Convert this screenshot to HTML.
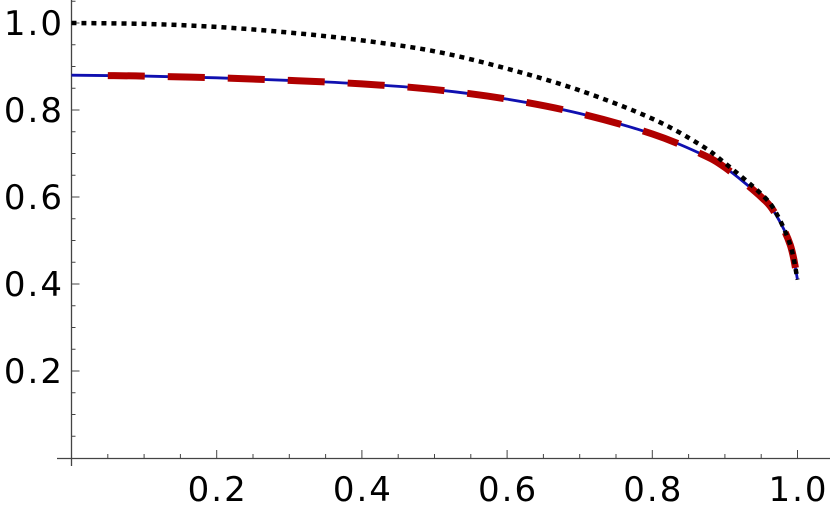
<!DOCTYPE html>
<html><head><meta charset="utf-8"><style>
html,body{margin:0;padding:0;background:#fff}
svg{display:block}
text{font-family:"DejaVu Sans","Liberation Sans",sans-serif;font-size:34px;letter-spacing:2px;fill:#000}
</style></head><body>
<svg id="chart" width="830" height="513" viewBox="0 0 830 513"></svg>
<script>
const xs = [0,0.1,0.2,0.3,0.4,0.5,0.6,0.7,0.8,0.866,0.9,0.95,0.97,0.99,1.0];
const blackVals = [1.0,0.998,0.991,0.978,0.96,0.935,0.895,0.845,0.78,0.72,0.678,0.607,0.565,0.49,0.41];
const blueVals = [0.88,0.878,0.874,0.868,0.86,0.847,0.825,0.792,0.745,0.70,0.668,0.6,0.56,0.49,0.41];
const redXs = [0.05,0.1,0.2,0.3,0.4,0.5,0.6,0.7,0.8,0.866,0.9,0.95,0.97,0.99,1.0];
const redVals = [0.879,0.878,0.874,0.868,0.86,0.847,0.825,0.792,0.745,0.70,0.668,0.6,0.56,0.49,0.41];
const xTicks = [0.2,0.4,0.6,0.8,1.0];
const yTicks = [0.2,0.4,0.6,0.8,1.0];

const NS='http://www.w3.org/2000/svg';
const svg=document.getElementById('chart');
const X=v=>71.5+v*726;
const Y=v=>458-v*435;
function mk(tag,attrs,parent){const e=document.createElementNS(NS,tag);for(const k in attrs)e.setAttribute(k,attrs[k]);(parent||svg).appendChild(e);return e;}
function path(xa,ya){
  const p=xa.map((x,i)=>[X(x),Y(ya[i])]);
  let d='M'+p[0][0]+','+p[0][1];
  for(let i=0;i<p.length-1;i++){
    const p0=p[i-1]||p[i],p1=p[i],p2=p[i+1],p3=p[i+2]||p2;
    const c1=[p1[0]+(p2[0]-p0[0])/6,p1[1]+(p2[1]-p0[1])/6];
    const c2=[p2[0]-(p3[0]-p1[0])/6,p2[1]-(p3[1]-p1[1])/6];
    d+=` C${c1[0]},${c1[1]} ${c2[0]},${c2[1]} ${p2[0]},${p2[1]}`;
  }
  return d;
}
const xa=mk('line',{x1:57,y1:458.5,x2:830,y2:458.5,stroke:'#444','stroke-width':1.3});


const ya=mk('line',{x1:71.5,y1:0,x2:71.5,y2:466,stroke:'#444','stroke-width':1.3});


for(let i=1;i<=20;i++){
  const v=i*0.05, major=i%4===0;
  const t=mk('line',{x1:X(v),y1:458,x2:X(v),y2:458-(major?8:4),stroke:'#444','stroke-width':1});
  
  
  const u=mk('line',{x1:71.5,y1:Y(v),x2:71.5+(major?8:4),y2:Y(v),stroke:'#444','stroke-width':1});
  
  
}
{const u=mk('line',{x1:71.5,y1:Y(1.05),x2:75.5,y2:Y(1.05),stroke:'#444','stroke-width':1});

}
xTicks.forEach(v=>{
  const t=mk('text',{x:X(v)+1,y:501,'text-anchor':'middle'});t.textContent=v.toFixed(1);
  
  
});
yTicks.forEach(v=>{
  const t=mk('text',{x:64,y:Y(v)+12,'text-anchor':'end'});t.textContent=v.toFixed(1);
  
  
});
const blue=mk('path',{d:path(xs,blueVals),fill:'none',stroke:'#1010b0','stroke-width':2.8});


const red=mk('path',{d:path(redXs,redVals),fill:'none',stroke:'#b00000','stroke-width':7,'stroke-dasharray':'37,23'});


const blk=mk('path',{d:path(xs,blackVals),fill:'none',stroke:'#000','stroke-width':4.5,'stroke-dasharray':'5,5'});


</script>
</body></html>
